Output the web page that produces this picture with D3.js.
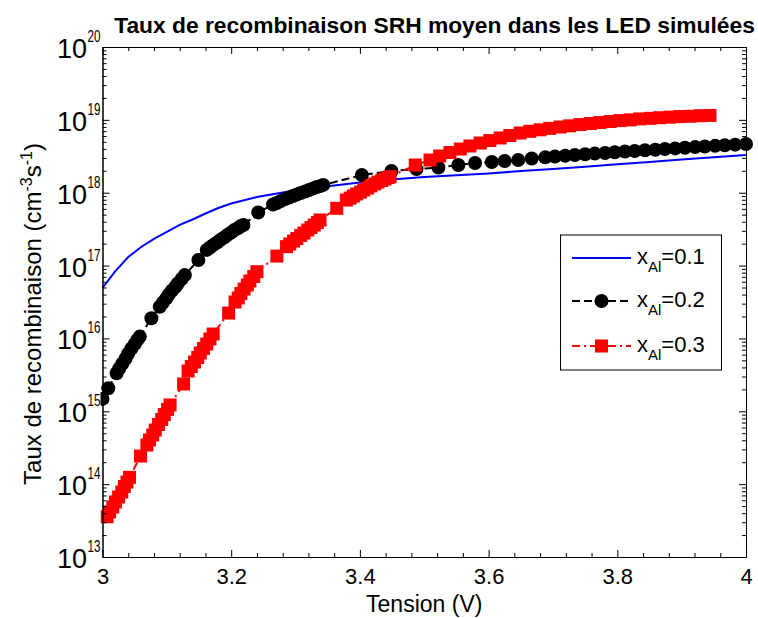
<!DOCTYPE html>
<html>
<head>
<meta charset="utf-8">
<script src="https://cdn.jsdelivr.net/npm/d3@7"></script>
<style>
  body { margin: 0; background: white; }
  text { font-family: "Liberation Sans", Arial, Helvetica, sans-serif; }
</style>
</head>
<body>
<div id="chart"></div>
<script>
// Data
const voltBlue = [3.00, 3.02, 3.04, 3.06, 3.08, 3.10, 3.12, 3.14, 3.16, 3.18, 3.20, 3.24, 3.28, 3.32, 3.36,
  3.40, 3.45, 3.50, 3.55, 3.60, 3.65, 3.70, 3.75, 3.80, 3.85, 3.90, 3.95, 4.00];
const rateBlue = [4.95e16, 8.4e16, 1.31e17, 1.80e17, 2.32e17, 2.89e17, 3.61e17, 4.29e17, 5.18e17, 6.17e17, 7.1e17,
  8.73e17, 1.01e18, 1.14e18, 1.26e18, 1.38e18, 1.52e18, 1.64e18, 1.73e18, 1.84e18, 1.98e18, 2.11e18, 2.27e18,
  2.45e18, 2.64e18, 2.85e18, 3.06e18, 3.29e18];

const voltBlack = [3.000, 3.009, 3.022, 3.026, 3.031, 3.036, 3.040, 3.045, 3.050, 3.054, 3.058, 3.076,
  3.089, 3.094, 3.099, 3.103, 3.108, 3.113, 3.117, 3.123, 3.128, 3.149,
  3.162, 3.167, 3.172, 3.178, 3.183, 3.189, 3.194, 3.200, 3.205, 3.211, 3.215, 3.219, 3.242,
  3.265, 3.271, 3.277, 3.284, 3.290, 3.296, 3.302, 3.308, 3.315, 3.321, 3.327, 3.333, 3.339, 3.343,
  3.403, 3.449, 3.488, 3.522, 3.553, 3.579, 3.605, 3.625, 3.646, 3.667, 3.688,
  3.703, 3.719, 3.734, 3.750, 3.765, 3.781, 3.796, 3.812, 3.827, 3.843, 3.859, 3.874, 3.890, 3.905,
  3.921, 3.936, 3.952, 3.967, 3.983, 4.000];
const rateBlack = [1.48e15, 2.07e15, 3.32e15, 3.87e15, 4.53e15, 5.30e15, 6.21e15, 7.28e15, 8.38e15, 9.51e15, 1.06e16, 1.89e16,
  2.72e16, 3.11e16, 3.53e16, 4.01e16, 4.55e16, 5.08e16, 5.67e16, 6.55e16, 7.41e16, 1.19e17,
  1.64e17, 1.77e17, 1.91e17, 2.07e17, 2.24e17, 2.43e17, 2.63e17, 2.84e17, 3.08e17, 3.28e17, 3.49e17, 3.60e17, 5.35e17,
  6.89e17, 7.22e17, 7.69e17, 8.19e17, 8.59e17, 9.01e17, 9.45e17, 9.91e17, 1.04e18, 1.09e18, 1.14e18, 1.20e18, 1.24e18, 1.28e18,
  1.75e18, 1.99e18, 2.11e18, 2.22e18, 2.40e18, 2.56e18, 2.64e18, 2.72e18, 2.81e18, 2.95e18, 3.06e18,
  3.14e18, 3.22e18, 3.29e18, 3.37e18, 3.44e18, 3.51e18, 3.59e18, 3.67e18, 3.74e18, 3.82e18, 3.89e18, 3.98e18, 4.06e18, 4.15e18,
  4.23e18, 4.31e18, 4.40e18, 4.49e18, 4.57e18, 4.66e18];

const voltRed = [3.007, 3.011, 3.016, 3.020, 3.025, 3.030, 3.034, 3.038, 3.042, 3.059,
  3.069, 3.073, 3.078, 3.082, 3.087, 3.092, 3.096, 3.101, 3.105, 3.126,
  3.133, 3.138, 3.143, 3.148, 3.152, 3.157, 3.162, 3.167, 3.172, 3.196,
  3.206, 3.211, 3.215, 3.220, 3.225, 3.229, 3.235, 3.240, 3.271,
  3.286, 3.291, 3.297, 3.302, 3.308, 3.313, 3.319, 3.324, 3.329, 3.334, 3.338, 3.364,
  3.379, 3.385, 3.390, 3.395, 3.401, 3.406, 3.412, 3.417, 3.423, 3.428, 3.434, 3.439, 3.444, 3.447, 3.486,
  3.509, 3.524, 3.540, 3.556, 3.571, 3.587, 3.602, 3.618, 3.633, 3.649, 3.664, 3.680, 3.695, 3.711,
  3.726, 3.742, 3.758, 3.773, 3.789, 3.804, 3.820, 3.835, 3.851, 3.866, 3.882, 3.897, 3.913, 3.929, 3.944];
const rateRed = [3.57e13, 4.15e13, 4.85e13, 5.69e13, 6.66e13, 7.80e13, 9.29e13, 1.07e14, 1.24e14, 2.43e14,
  3.44e14, 4.04e14, 4.72e14, 5.53e14, 6.59e14, 7.71e14, 9.03e14, 1.06e15, 1.22e15, 2.37e15,
  3.57e15, 4.12e15, 4.75e15, 5.47e15, 6.31e15, 7.28e15, 8.38e15, 9.82e15, 1.15e16, 2.23e16,
  3.16e16, 3.59e16, 4.14e16, 4.76e16, 5.41e16, 6.14e16, 7.08e16, 8.24e16, 1.35e17,
  1.82e17, 1.98e17, 2.17e17, 2.35e17, 2.59e17, 2.80e17, 3.08e17, 3.33e17, 3.60e17, 3.90e17, 4.22e17, 6.11e17,
  7.94e17, 8.45e17, 9.01e17, 9.60e17, 1.02e18, 1.09e18, 1.16e18, 1.24e18, 1.32e18, 1.40e18, 1.47e18, 1.54e18, 1.62e18, 1.66e18, 2.40e18,
  2.81e18, 3.19e18, 3.56e18, 3.98e18, 4.38e18, 4.81e18, 5.20e18, 5.64e18, 6.10e18, 6.60e18, 6.96e18, 7.30e18, 7.63e18, 7.98e18,
  8.28e18, 8.61e18, 8.91e18, 9.20e18, 9.49e18, 9.77e18, 1.00e19, 1.03e19, 1.05e19, 1.07e19, 1.09e19, 1.11e19, 1.12e19, 1.14e19, 1.15e19];

const xTicks = [3, 3.2, 3.4, 3.6, 3.8, 4];
const xTickLabels = ["3", "3.2", "3.4", "3.6", "3.8", "4"];
const yExponents = [13, 14, 15, 16, 17, 18, 19, 20];
const legendLabels = ["0.1", "0.2", "0.3"];

// Dimensions
const width = 758, height = 618;
const margin = {top: 47, right: 12, bottom: 61, left: 102.5};

const svg = d3.select('#chart')
  .append('svg')
  .attr('width', width)
  .attr('height', height)
  .style('background', 'white');

// Scales
const xScale = d3.scaleLinear()
  .domain([3, 4])
  .range([margin.left, width - margin.right]);

const yScale = d3.scaleLog()
  .domain([1e13, 1e20])
  .range([height - margin.bottom, margin.top]);

const x0 = xScale.range()[0], x1 = xScale.range()[1];
const y0 = yScale.range()[0], y1 = yScale.range()[1];

// markers are cut at the left axis only
svg.append('clipPath').attr('id', 'leftclip')
  .append('rect')
  .attr('x', x0 - 2).attr('y', 0)
  .attr('width', width).attr('height', height);

// Minor tick values
const xMinor = d3.range(0, 26).map(i => 3 + i * 0.04).filter(v => Math.abs(v * 5 - Math.round(v * 5)) > 1e-6);
const yMinor = [];
yExponents.slice(0, -1).forEach(e => { for (let k = 2; k <= 9; k++) yMinor.push(k * Math.pow(10, e)); });
const yMajor = yExponents.map(e => Math.pow(10, e));

function styleAxis(g) {
  g.selectAll('path, line').attr('stroke', 'black').attr('stroke-width', 1);
  g.attr('font-family', null).attr('font-size', null);
}

// Series
const series = [
  {volt: voltBlue, rate: rateBlue, color: '#0000ff', dash: null, marker: null},
  {volt: voltBlack, rate: rateBlack, color: '#000000', dash: '8,4', marker: 'circle'},
  {volt: voltRed, rate: rateRed, color: '#ff0000', dash: '8,4,2,4', marker: 'square'}
];

const line = d3.line()
  .x(d => xScale(d[0]))
  .y(d => yScale(d[1]));

const plot = svg.append('g').attr('clip-path', 'url(#leftclip)');

series.forEach(s => {
  const pts = s.volt.map((v, i) => [v, s.rate[i]]);
  plot.append('path')
    .datum(pts)
    .attr('d', line)
    .attr('fill', 'none')
    .attr('stroke', s.color)
    .attr('stroke-width', 2)
    .attr('stroke-dasharray', s.dash);

  if (s.marker === 'circle') {
    plot.append('g').selectAll('circle')
      .data(pts).join('circle')
      .attr('cx', d => xScale(d[0]))
      .attr('cy', d => yScale(d[1]))
      .attr('r', 7)
      .attr('fill', s.color);
  } else if (s.marker === 'square') {
    plot.append('g').selectAll('rect')
      .data(pts).join('rect')
      .attr('x', d => xScale(d[0]) - 6.5)
      .attr('y', d => yScale(d[1]) - 6.5)
      .attr('width', 13)
      .attr('height', 13)
      .attr('fill', s.color);
  }
});

// Axes (box with inward ticks on all sides)
svg.append('g')
  .attr('transform', `translate(0,${y0})`)
  .call(d3.axisBottom(xScale).tickValues(xTicks).tickSize(-7).tickSizeOuter(0).tickPadding(11)
    .tickFormat((d, i) => xTickLabels[i]))
  .call(styleAxis)
  .call(g => g.selectAll('text').attr('fill', 'black').style('font-size', '22px'));

svg.append('g')
  .attr('transform', `translate(0,${y0})`)
  .call(d3.axisBottom(xScale).tickValues(xMinor).tickSize(-4).tickSizeOuter(0).tickFormat(''))
  .call(styleAxis);

svg.append('g')
  .attr('transform', `translate(0,${y1})`)
  .call(d3.axisTop(xScale).tickValues(xTicks).tickSize(-7).tickSizeOuter(0).tickFormat(''))
  .call(styleAxis);

svg.append('g')
  .attr('transform', `translate(0,${y1})`)
  .call(d3.axisTop(xScale).tickValues(xMinor).tickSize(-4).tickSizeOuter(0).tickFormat(''))
  .call(styleAxis);

svg.append('g')
  .attr('transform', `translate(${x0},0)`)
  .call(d3.axisLeft(yScale).tickValues(yMajor).tickSize(-7).tickSizeOuter(0).tickFormat(''))
  .call(styleAxis);

svg.append('g')
  .attr('transform', `translate(${x0},0)`)
  .call(d3.axisLeft(yScale).tickValues(yMinor).tickSize(-4).tickSizeOuter(0).tickFormat(''))
  .call(styleAxis);

svg.append('g')
  .attr('transform', `translate(${x1},0)`)
  .call(d3.axisRight(yScale).tickValues(yMajor).tickSize(-7).tickSizeOuter(0).tickFormat(''))
  .call(styleAxis);

svg.append('g')
  .attr('transform', `translate(${x1},0)`)
  .call(d3.axisRight(yScale).tickValues(yMinor).tickSize(-4).tickSizeOuter(0).tickFormat(''))
  .call(styleAxis);

// Y tick labels 10^n
yExponents.forEach(e => {
  const ty = yScale(Math.pow(10, e));
  svg.append('text')
    .attr('x', 87)
    .attr('y', ty + 11)
    .attr('text-anchor', 'end')
    .style('font-size', '27px')
    .text('10');
  svg.append('text')
    .attr('x', 87.5)
    .attr('y', ty - 5)
    .attr('text-anchor', 'start')
    .attr('textLength', 13)
    .attr('lengthAdjust', 'spacingAndGlyphs')
    .style('font-size', '17px')
    .text(e);
});

// Title
svg.append('text')
  .attr('x', 434.5)
  .attr('y', 33)
  .attr('text-anchor', 'middle')
  .style('font-size', '22.8px')
  .style('font-weight', 'bold')
  .text('Taux de recombinaison SRH moyen dans les LED simulées');

// X label
svg.append('text')
  .attr('x', (x0 + x1) / 2)
  .attr('y', 612)
  .attr('text-anchor', 'middle')
  .style('font-size', '23px')
  .text('Tension (V)');

// Y label
const yLab = svg.append('text')
  .attr('transform', `translate(41,314) rotate(-90)`)
  .attr('text-anchor', 'middle')
  .style('font-size', '24px');
yLab.append('tspan').text('Taux de recombinaison (cm');
yLab.append('tspan').attr('dy', -9).style('font-size', '16px').text('-3');
yLab.append('tspan').attr('dy', 9).text('s');
yLab.append('tspan').attr('dy', -9).style('font-size', '16px').text('-1');
yLab.append('tspan').attr('dy', 9).text(')');

// Legend
const legend = svg.append('g');
legend.append('rect')
  .attr('x', 560.5).attr('y', 235)
  .attr('width', 161).attr('height', 135)
  .attr('fill', 'white').attr('stroke', 'black').attr('stroke-width', 1);

const legendY = [258, 301, 346];
series.forEach((s, i) => {
  const ly = legendY[i];
  legend.append('line')
    .attr('x1', 572).attr('x2', 631)
    .attr('y1', ly).attr('y2', ly)
    .attr('stroke', s.color).attr('stroke-width', 2)
    .attr('stroke-dasharray', s.dash);
  if (s.marker === 'circle') {
    legend.append('circle').attr('cx', 601.5).attr('cy', ly).attr('r', 7).attr('fill', s.color);
  } else if (s.marker === 'square') {
    legend.append('rect').attr('x', 595).attr('y', ly - 6.5).attr('width', 13).attr('height', 13).attr('fill', s.color);
  }
  const t = legend.append('text')
    .attr('x', 637).attr('y', ly + 6)
    .style('font-size', '22px');
  t.append('tspan').text('x');
  t.append('tspan').attr('dy', 8).style('font-size', '15px').text('Al');
  t.append('tspan').attr('dy', -8).text('=' + legendLabels[i]);
});
</script>
</body>
</html>
